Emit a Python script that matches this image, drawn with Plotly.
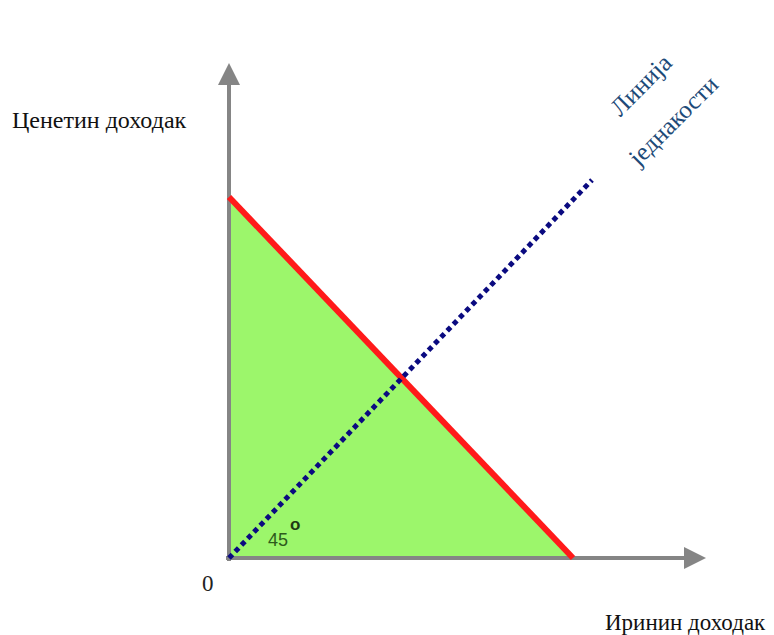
import plotly.graph_objects as go

# Data (abstract income units; origin at 0,0)
budget_x = [0, 344]          # Irina's income at budget line endpoints
budget_y = [361, 0]          # Ceneta's income at budget line endpoints
equality_x = [0, 363]
equality_y = [0, 378]
axis_x_max = 477
axis_y_max = 495

x_label = "Иринин доходак"
y_label = "Ценетин доходак"
eq_label_1 = "Линија"
eq_label_2 = "једнакости"
angle_label = "45"
origin_label = "0"

fig = go.Figure()

# green triangle
fig.add_trace(go.Scatter(
    x=[budget_x[0], budget_x[1], 0, budget_x[0]],
    y=[budget_y[0], budget_y[1], 0, budget_y[0]],
    fill="toself", fillcolor="#9cf66b", mode="none", hoverinfo="skip"))

# axes lines
fig.add_trace(go.Scatter(x=[-3, axis_x_max - 15], y=[0, 0], mode="lines",
                         line=dict(color="#858585", width=4), hoverinfo="skip"))
fig.add_trace(go.Scatter(x=[0, 0], y=[-3, axis_y_max - 15], mode="lines",
                         line=dict(color="#858585", width=4), hoverinfo="skip"))

# budget line (red)
fig.add_trace(go.Scatter(x=budget_x, y=budget_y, mode="lines",
                         line=dict(color="#ff1a1a", width=6), hoverinfo="skip"))

# equality line (dotted navy)
fig.add_trace(go.Scatter(x=equality_x, y=equality_y, mode="lines",
                         line=dict(color="#0a0a80", width=5, dash="5px,4px"),
                         hoverinfo="skip"))

serif = "Liberation Serif, Times New Roman, serif"
annotations = [
    # arrowheads
    dict(x=axis_x_max, y=0, ax=axis_x_max - 30, ay=0, xref="x", yref="y",
         axref="x", ayref="y", showarrow=True, arrowhead=2, arrowsize=1.1,
         arrowwidth=4, arrowcolor="#858585", text=""),
    dict(x=0, y=axis_y_max, ax=0, ay=axis_y_max - 30, xref="x", yref="y",
         axref="x", ayref="y", showarrow=True, arrowhead=2, arrowsize=1.1,
         arrowwidth=4, arrowcolor="#858585", text=""),
    dict(x=-130, y=438, text=y_label, showarrow=False,
         font=dict(family=serif, size=24, color="#111")),
    dict(x=539, y=-64, text=x_label, showarrow=False, xanchor="right",
         font=dict(family=serif, size=23, color="#111")),
    dict(x=-21, y=-25, text=origin_label, showarrow=False,
         font=dict(family=serif, size=23, color="#222")),
    dict(x=49, y=18, text=angle_label, showarrow=False,
         font=dict(family="Arial, sans-serif", size=18, color="#2e5a1c")),
    dict(x=66, y=34, text="<b>o</b>", showarrow=False,
         font=dict(family="Arial, sans-serif", size=17, color="#1e3a14")),
    dict(x=411, y=473, text=eq_label_1, showarrow=False, textangle=-45,
         font=dict(family=serif, size=25, color="#1d4a78")),
    dict(x=443, y=437, text=eq_label_2, showarrow=False, textangle=-45,
         font=dict(family=serif, size=25, color="#1d4a78")),
]

fig.update_layout(
    width=774, height=635,
    margin=dict(l=0, r=0, t=0, b=0),
    paper_bgcolor="white", plot_bgcolor="white",
    showlegend=False,
    xaxis=dict(range=[-221, 553], visible=False, fixedrange=True),
    yaxis=dict(range=[-85, 550], visible=False, fixedrange=True),
    annotations=annotations,
)

fig.write_html("out.html")
